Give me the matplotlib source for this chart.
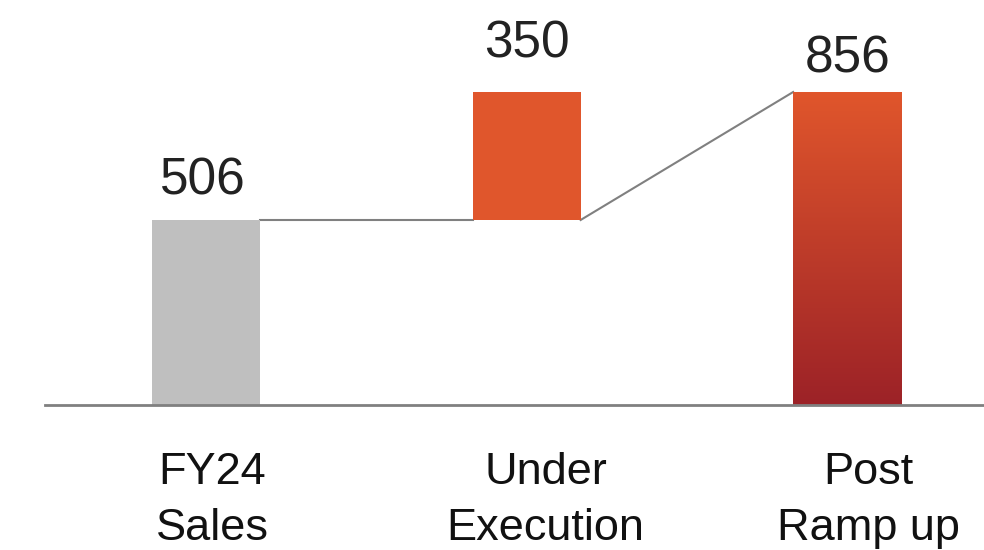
import numpy as np
import matplotlib
matplotlib.use("Agg")
import matplotlib.pyplot as plt
from matplotlib.colors import LinearSegmentedColormap
import matplotlib.transforms as mtransforms

plt.rcParams['font.family'] = ['Liberation Sans', 'DejaVu Sans']

# data
categories = ["FY24\nSales", "Under\nExecution", "Post\nRamp up"]
base = [0, 506, 0]
heights = [506, 350, 856]
value_labels = ["506", "350", "856"]

# styles
gray = "#BFBFBF"
orange = "#E0562C"
dark_red = "#9C2227"
line_gray = "#808080"
w = 0.337
label_gap = [18, 24.5, 14.4]   # points, baseline above bar top
label_dx = [-2.5, 0, 0]          # points
cat_dx = [4.3, 13.7, 15]         # points

fig = plt.figure(figsize=(9.84, 5.5), dpi=100)
ax = fig.add_axes([0, 0, 1, 1])
ax.axis("off")

x = np.arange(len(categories))

# bar 1 and bar 2 as plain bars
ax.bar(x[0], heights[0], bottom=base[0], width=w, color=gray, zorder=2)
ax.bar(x[1], heights[1], bottom=base[1], width=w, color=orange, zorder=2)

# bar 3 with vertical gradient
cmap = LinearSegmentedColormap.from_list("grad", [dark_red, orange])
grad = np.linspace(0, 1, 256).reshape(-1, 1)
ax.imshow(grad, cmap=cmap, aspect="auto", origin="lower",
          extent=[x[2] - w / 2, x[2] + w / 2, base[2], base[2] + heights[2]],
          zorder=2)
ax.set_xlim(-0.643, 2.427)
ax.set_ylim(-396.6, 1107.7)

# connectors
top1 = base[0] + heights[0]
ax.plot([x[0] + w / 2, x[1] - w / 2], [top1, top1], color=line_gray, lw=1.5, zorder=1)
ax.plot([x[1] + w / 2, x[2] - w / 2], [base[1], base[2] + heights[2]],
        color=line_gray, lw=1.5, zorder=1)

# baseline
ax.plot([-0.502, 2.427], [0, 0], color=line_gray, lw=2, zorder=3, clip_on=False)

# value labels
for i in range(len(x)):
    ax.annotate(value_labels[i], (x[i], base[i] + heights[i]),
                xytext=(label_dx[i], label_gap[i]), textcoords="offset points",
                ha="center", va="baseline", fontsize=37, color="#222222")

# category labels
for i, c in enumerate(categories):
    tr = mtransforms.offset_copy(ax.transData, fig=fig, x=cat_dx[i], y=-34, units="points")
    ax.text(x[i], 0, c, transform=tr, ha="center", va="top",
            fontsize=32.5, color="#111111", linespacing=1.47)

fig.savefig("out.png", dpi=100)
